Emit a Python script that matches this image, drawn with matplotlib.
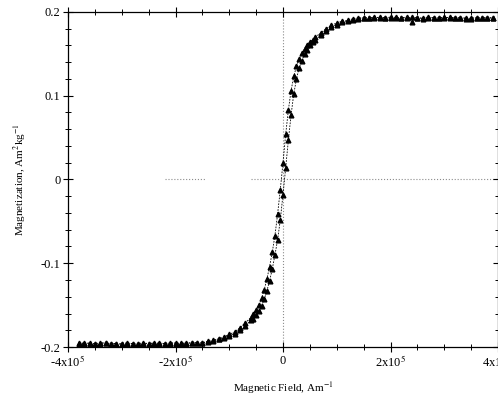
import numpy as np
import matplotlib
matplotlib.use('Agg')
import matplotlib.pyplot as plt
from matplotlib.ticker import MultipleLocator

# field in units of 1e5 A/m
field = [-3.8, -3.7, -3.6, -3.5, -3.4, -3.3, -3.2, -3.1, -3.0, -2.9, -2.8, -2.7,
         -2.6, -2.5, -2.4, -2.3, -2.2, -2.1, -2.0, -1.9, -1.8, -1.7, -1.6,
         -1.5, -1.4, -1.3, -1.2, -1.1, -1.0, -0.9, -0.8, -0.7, -0.6,
         -0.55, -0.5, -0.45, -0.4, -0.35, -0.3, -0.25, -0.2, -0.15, -0.1, -0.05,
         0.0, 0.05, 0.1, 0.15, 0.2, 0.25, 0.3, 0.35, 0.4, 0.45, 0.5, 0.55,
         0.6, 0.7, 0.8, 0.9, 1.0, 1.1, 1.2, 1.3, 1.4, 1.5,
         1.6, 1.7, 1.8, 1.9, 2.0, 2.1, 2.2, 2.3, 2.4, 2.5, 2.6, 2.7,
         2.8, 2.9, 3.0, 3.1, 3.2, 3.3, 3.4, 3.5, 3.6, 3.7, 3.8, 3.9]

# increasing-field branch
mag_up = [-0.195, -0.196, -0.195, -0.196, -0.196, -0.195, -0.196, -0.196, -0.197, -0.196,
          -0.196, -0.197, -0.196, -0.196, -0.196, -0.195, -0.196, -0.196, -0.196, -0.195,
          -0.196, -0.195, -0.195,
          -0.195, -0.194, -0.193, -0.191, -0.189, -0.187, -0.184, -0.180, -0.175, -0.168,
          -0.166, -0.162, -0.157, -0.151, -0.143, -0.133, -0.121, -0.107, -0.090, -0.072,
          -0.048, -0.018, 0.014, 0.047, 0.077, 0.102, 0.120, 0.133, 0.142, 0.150, 0.155,
          0.160, 0.164,
          0.167, 0.172, 0.177, 0.182, 0.185, 0.188, 0.189, 0.191, 0.192, 0.193,
          0.193, 0.193, 0.194, 0.193, 0.193, 0.194, 0.193, 0.193, 0.194, 0.193, 0.192, 0.193,
          0.193, 0.193, 0.194, 0.193, 0.193, 0.193, 0.192, 0.193, 0.193, 0.193, 0.193, 0.193]

# decreasing-field branch
mag_down = [-0.196, -0.195, -0.196, -0.196, -0.195, -0.195, -0.196, -0.196, -0.196, -0.195,
            -0.196, -0.196, -0.195, -0.196, -0.195, -0.196, -0.196, -0.195, -0.195, -0.196,
            -0.195, -0.195, -0.195,
            -0.195, -0.193, -0.192, -0.190, -0.188, -0.185, -0.182, -0.177, -0.171, -0.165,
            -0.161, -0.156, -0.150, -0.142, -0.132, -0.119, -0.104, -0.087, -0.067, -0.041,
            -0.012, 0.020, 0.054, 0.083, 0.106, 0.123, 0.135, 0.144, 0.151, 0.156, 0.161,
            0.164, 0.167,
            0.170, 0.175, 0.180, 0.184, 0.187, 0.189, 0.190, 0.192, 0.193, 0.193,
            0.193, 0.194, 0.193, 0.193, 0.194, 0.193, 0.193, 0.194, 0.188, 0.193, 0.193, 0.194,
            0.193, 0.193, 0.193, 0.194, 0.193, 0.193, 0.193, 0.192, 0.193, 0.193, 0.193, 0.193]

xticks = [-4e5, -2e5, 0, 2e5, 4e5]
xticklabels = ['-4x10$^5$', '-2x10$^5$', '0', '2x10$^5$', '4x10$^5$']
yticks = [-0.2, -0.1, 0, 0.1, 0.2]
yticklabels = ['-0.2', '-0.1', '0', '0.1', '0.2']

plt.rcParams['font.family'] = ['Liberation Serif', 'DejaVu Serif']
plt.rcParams['mathtext.fontset'] = 'stix'

fig = plt.figure(figsize=(4.98, 3.98), dpi=100)
ax = fig.add_axes([68/498, 1-347/398, 430/498, 335/398])

h = np.array(field) * 1e5
ax.axvline(0, color='0.55', ls=':', lw=0.8, zorder=1)
ax.hlines(0, -2.2e5, -1.45e5, color='0.55', ls=':', lw=0.8, zorder=1)
ax.hlines(0, -0.6e5, 4e5, color='0.55', ls=':', lw=0.8, zorder=1)

for m in (mag_up, mag_down):
    ax.plot(h, m, ls=(0, (2, 1.5)), lw=0.6, color='k', marker='^', ms=3.4,
            mfc='k', mec='k', zorder=3)

ax.set_xlim(-4e5, 4e5)
ax.set_ylim(-0.2, 0.2)
ax.set_xticks(xticks)
ax.set_xticklabels(xticklabels)
ax.set_yticks(yticks)
ax.set_yticklabels(yticklabels)
ax.xaxis.set_minor_locator(MultipleLocator(0.5e5))
ax.yaxis.set_minor_locator(MultipleLocator(0.02))
ax.tick_params(which='both', direction='inout', top=True, right=True, labelsize=9, pad=2)
ax.tick_params(which='major', length=7, width=0.8)
ax.tick_params(which='minor', length=4, width=0.7)
for s in ax.spines.values():
    s.set_linewidth(0.9)

ax.set_xlabel('Magnetic Field, Am$^{-1}$', fontsize=8, va='center')
ax.xaxis.set_label_coords(0.5, -(388 - 347) / 335)
ax.set_ylabel('Magnetization, Am$^2$kg$^{-1}$', fontsize=8, va='center')
ax.yaxis.set_label_coords(-(68 - 20) / 430, 0.5)

fig.savefig('out.png', dpi=100)
